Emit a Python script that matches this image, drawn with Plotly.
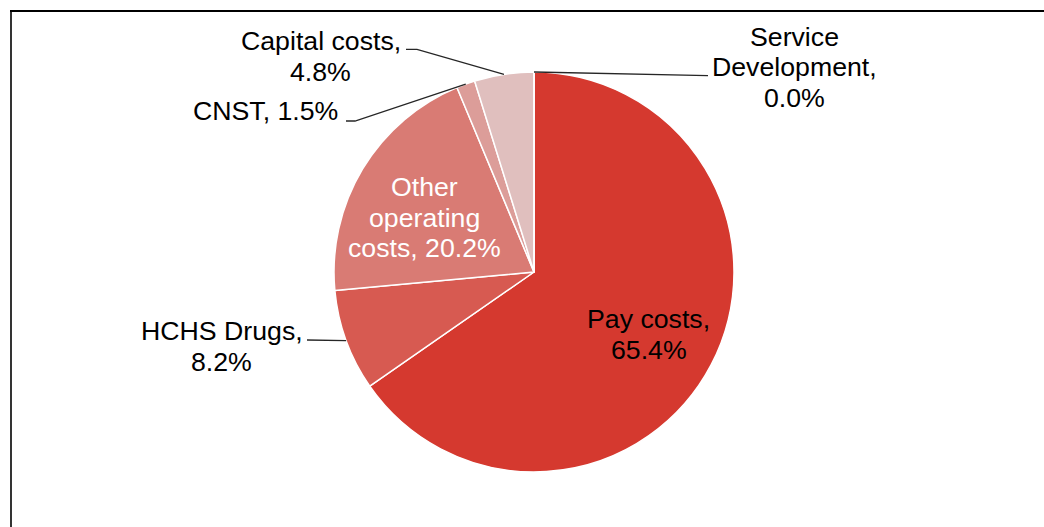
import math
import plotly.graph_objects as go

W, H = 1044, 527

# ---- data ----
categories = ["Pay costs", "HCHS Drugs", "Other operating costs", "CNST", "Capital costs", "Service Development"]
values = [65.4, 8.2, 20.2, 1.5, 4.8, 0.0]
colors = ["#D5392F", "#D75A51", "#D97B74", "#DC9D99", "#E0BFBE", "#E6DCDC"]
label_lines = [
    ["Pay costs,", "65.4%"],
    ["HCHS Drugs,", "8.2%"],
    ["Other", "operating", "costs, 20.2%"],
    ["CNST, 1.5%"],
    ["Capital costs,", "4.8%"],
    ["Service", "Development,", "0.0%"],
]

# ---- layout positions (pixels) ----
pie_left, pie_right, pie_top, pie_bottom = 334, 734, 72, 472
cx, cy = (pie_left + pie_right) / 2, (pie_top + pie_bottom) / 2
r = (pie_right - pie_left) / 2

# label block: (center x, first-line cap-center y, text colour)
label_pos = [
    (648.5, 319.5, "black"),
    (221.5, 331.0, "black"),
    (424.0, 187.0, "white"),
    (265.0, 111.5, "black"),
    (320.5, 41.5, "black"),
    (794.0, 37.0, "black"),
]
line_gap = 30.5
# leader start points (pixels) and an optional elbow; None = no leader
leader_start = [None, [(307, 340)], None, [(346, 121), (355, 121)], [(406, 49.3), (417, 49.3)], [(708, 75.7)]]


def px(x):
    return x / W


def py(y):
    return 1 - y / H


total = sum(values)
cum = 0.0
mid_frac = []
start_frac = []
for v in values:
    start_frac.append(cum / total)
    mid_frac.append((cum + v / 2) / total)
    cum += v

fig = go.Figure(go.Pie(
    labels=categories,
    values=values,
    sort=False,
    direction="clockwise",
    rotation=0,
    textinfo="none",
    hoverinfo="label+percent",
    marker=dict(colors=colors, line=dict(color="white", width=1.5)),
    domain=dict(x=[px(pie_left), px(pie_right)], y=[py(pie_bottom), py(pie_top)]),
    showlegend=False,
))

annotations = []
for lines, (lx, ly, col) in zip(label_lines, label_pos):
    for i, t in enumerate(lines):
        annotations.append(dict(
            x=px(lx), y=py(ly + i * line_gap), xref="paper", yref="paper",
            text=t, showarrow=False, xanchor="center", yanchor="middle",
            font=dict(family="Liberation Sans, Arial, sans-serif", size=26.7, color=col),
        ))

shapes = []
for i, pts in enumerate(leader_start):
    if pts is None:
        continue
    if values[i] == 0:
        ang = start_frac[i] * 2 * math.pi
    else:
        ang = mid_frac[i] * 2 * math.pi
    ex, ey = cx + r * math.sin(ang), cy - r * math.cos(ang)
    all_pts = pts + [(ex, ey)]
    path = "M " + " L ".join(f"{px(x)},{py(y)}" for x, y in all_pts)
    shapes.append(dict(type="path", path=path, xref="paper", yref="paper",
                       line=dict(color="#262626", width=1.3)))

# frame (top and left edges visible in crop)
shapes.append(dict(type="line", xref="paper", yref="paper", x0=px(10), x1=px(W + 5), y0=py(11), y1=py(11),
                   line=dict(color="black", width=2.2)))
shapes.append(dict(type="line", xref="paper", yref="paper", x0=px(11), x1=px(11), y0=py(10), y1=py(H + 5),
                   line=dict(color="black", width=1.6)))

fig.update_layout(
    width=W, height=H,
    margin=dict(l=0, r=0, t=0, b=0),
    paper_bgcolor="white", plot_bgcolor="white",
    annotations=annotations,
    shapes=shapes,
)

fig.write_html("out.html")
